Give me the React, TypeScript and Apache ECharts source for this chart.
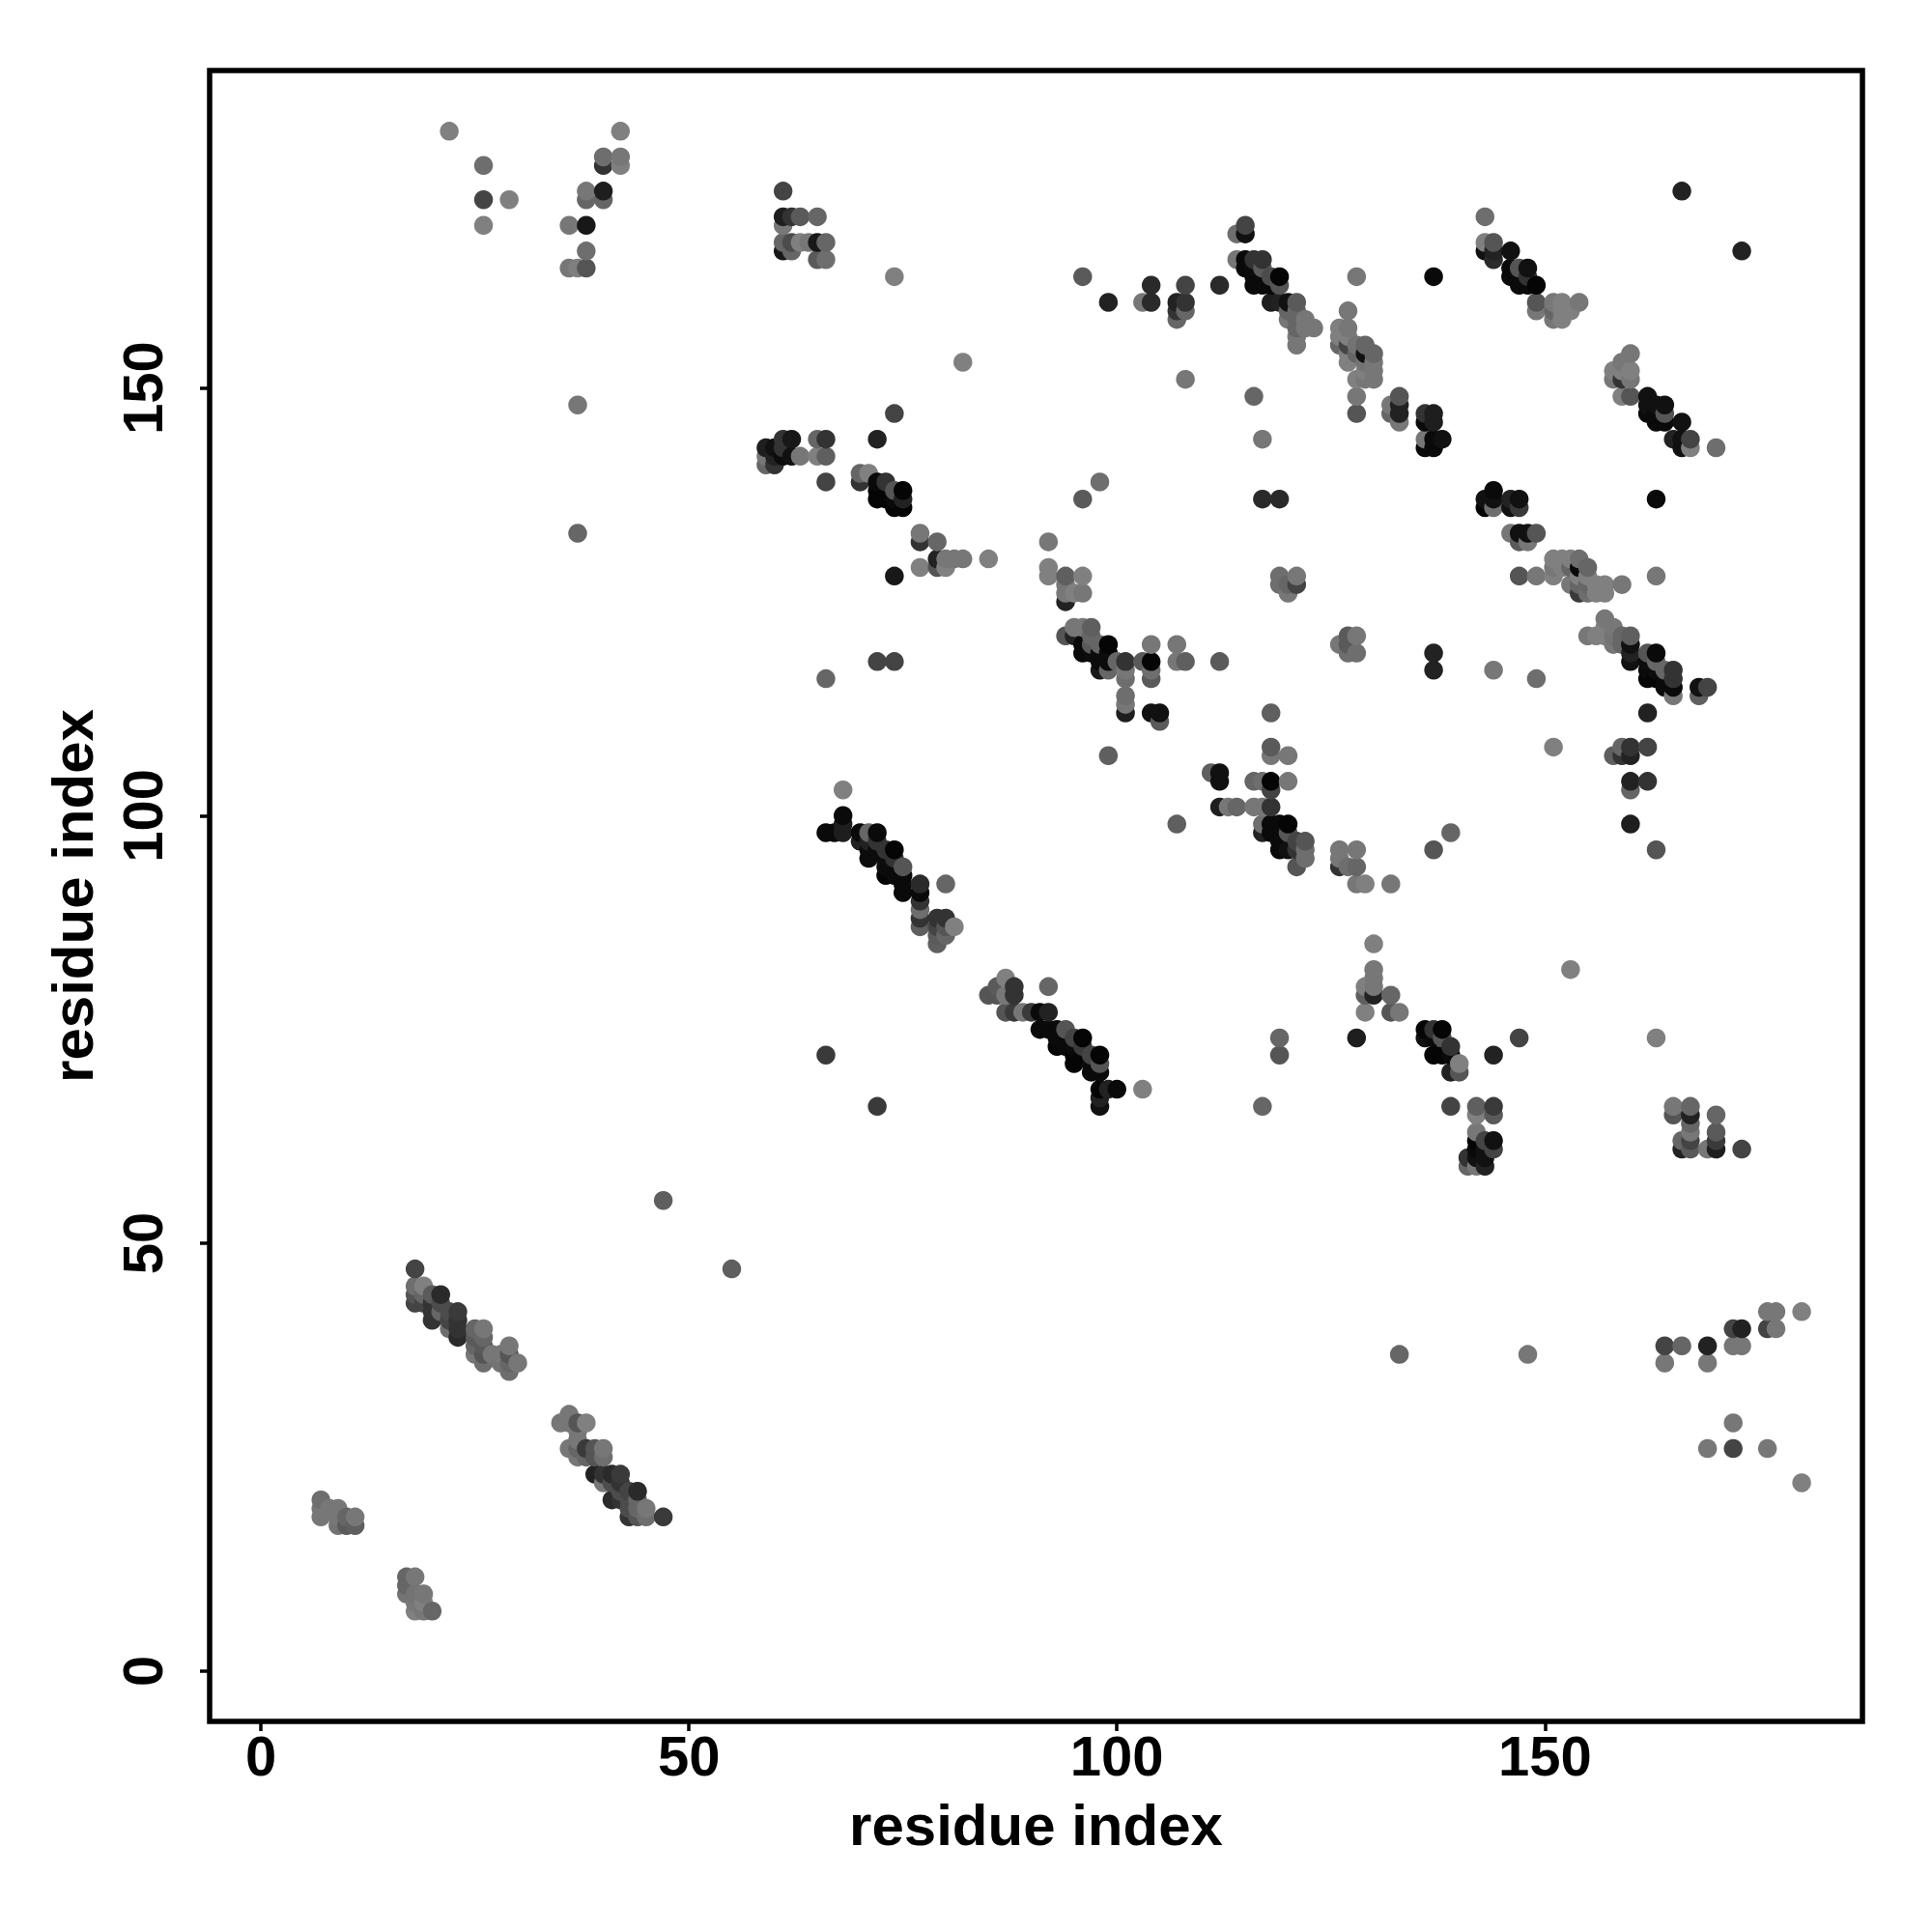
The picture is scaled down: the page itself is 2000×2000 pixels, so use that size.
import React, { useEffect, useRef } from "react";
import * as echarts from "echarts";

type Contact = [number, number, number];

const xTicks = [0, 50, 100, 150];
const yTicks = [0, 50, 100, 150];
const axisTitle = "residue index";

// each contact: [residue x, residue y, grey level of the dot]
const topLeft: Contact[] = [
  [22,180,128],[26,176,110],[26,172,68],[29,172,128],[26,169,128],[36,169,119],[38,169,24],[38,173,119],[38,172,102],
  [40,173,30],[40,172,102],[38,166,110],[36,164,119],[37,164,128],[38,164,85],[40,177,110],[40,176,51],[42,177,119],
  [42,176,128],[42,180,128],[37,148,119],[37,133,102],
];
const topBlock61: Contact[] = [
  [61,173,68],[61,170,30],[62,170,51],[63,170,90],[65,170,102],[61,169,119],[61,167,102],[62,167,76],[63,167,128],
  [64,167,119],[65,167,24],[66,167,102],[61,166,24],[62,166,102],[65,165,90],[66,165,110],[74,163,128],[82,153,128],
];
const strand144: Contact[] = [
  [74,147,68],[72,144,34],[59,143,30],[61,144,51],[62,144,24],[59,142,119],[59,141,102],[60,141,51],[60,143,17],[60,142,34],
  [61,143,51],[61,142,12],[62,142,17],[63,142,119],[65,144,102],[66,144,51],[65,142,128],[66,142,95],[66,139,68],
  [70,140,102],[71,140,128],[70,139,51],[72,139,10],[73,139,51],[72,138,5],[74,138,85],[75,138,5],[72,137,5],[73,137,5],
  [74,137,10],[75,137,34],[74,136,5],[75,136,5],[74,128,24],[77,133,119],[77,132,51],[79,132,102],[77,129,128],
  [79,130,34],[80,130,119],[81,130,119],[82,130,119],[79,129,85],[80,129,128],[85,130,128],
];
const midUpper: Contact[] = [
  [92,132,119],[92,129,128],[92,128,128],[94,128,95],[96,128,128],[94,127,119],[94,126,119],[94,125,34],[95,126,128],[96,126,119],
  [95,122,119],[96,122,119],[97,122,95],[94,121,85],[95,121,34],[97,121,102],[96,120,10],[96,119,10],[97,120,90],[98,120,102],
  [99,120,5],[97,119,12],[98,119,12],[99,119,12],[98,118,12],[99,118,12],[98,117,24],[99,117,102],[100,118,102],
  [101,118,51],[101,117,119],[101,116,110],[101,114,110],[101,113,119],[101,112,30],[103,118,90],[104,118,5],[104,120,119],
  [104,117,110],[104,116,90],[104,112,17],[105,112,17],[105,111,90],[107,120,119],[107,118,119],[108,118,95],[112,118,90],
  [99,107,95],[96,163,90],[98,139,110],[96,137,90],[66,116,102],[72,118,68],[74,118,68],
];
const row160: Contact[] = [
  [99,160,34],[104,162,42],[103,160,119],[104,160,42],[108,162,68],[107,160,34],[108,160,51],[107,159,51],[108,159,102],[107,158,102],
  [112,162,42],[108,151,119],[116,149,102],[117,144,119],[117,137,42],[119,137,42],
];
const strand165: Contact[] = [
  [114,168,110],[115,169,68],[115,168,17],[114,165,119],[115,165,10],[116,165,51],[117,165,51],[115,164,10],[116,164,12],[117,164,90],
  [116,163,10],[118,163,76],[119,163,5],[116,162,10],[117,162,10],[118,162,10],[119,162,85],[118,160,30],[119,160,34],[120,160,17],
  [121,160,90],[120,159,102],[121,159,102],[120,158,119],[121,158,102],[122,158,119],[123,157,119],[121,157,102],[122,157,119],
  [121,156,119],[121,155,119],[128,163,119],[137,163,10],[127,159,119],
];
const strand153: Contact[] = [
  [126,157,128],[127,157,119],[126,156,128],[127,156,128],[126,155,102],[127,155,68],[128,155,115],[129,155,102],[127,154,128],
  [128,154,102],[129,154,17],[130,154,102],[127,153,128],[129,153,115],[130,153,119],[129,152,128],[130,152,119],[128,151,128],
  [129,151,119],[130,151,119],[128,149,119],[128,147,85],[132,148,119],[132,147,102],[133,149,85],[133,148,34],[133,147,34],
  [133,146,119],[136,147,51],[137,147,30],[136,146,10],[137,146,30],[136,144,119],[137,144,10],[138,144,17],[136,143,10],[137,143,10],
];
const strand166: Contact[] = [
  [143,170,110],[143,167,128],[144,167,85],[143,166,17],[144,166,34],[144,165,42],[146,166,17],[146,164,10],[147,164,85],[148,164,17],
  [146,163,10],[148,163,51],[147,162,10],[148,162,10],[149,162,5],[149,160,85],[149,159,119],[151,160,119],[152,160,128],[154,160,119],
  [151,159,102],[152,159,128],[153,159,128],[151,158,119],[152,158,128],[166,173,34],[173,166,34],
];
const strand150: Contact[] = [
  [160,154,119],[159,153,119],[158,152,128],[159,152,128],[160,152,128],[158,151,119],[159,151,51],[160,151,119],[159,149,128],[160,149,85],
  [162,149,17],[162,148,17],[163,148,17],[164,148,17],[162,147,10],[163,147,10],[164,147,85],[163,146,10],[164,146,10],[166,146,17],
  [165,144,34],[166,144,17],[167,144,68],[166,143,17],[167,143,128],[170,143,110],
];
const strand137: Contact[] = [
  [144,138,10],[143,137,17],[144,137,17],[143,136,5],[144,136,110],[146,137,34],[147,137,17],[146,136,17],[147,136,58],
  [146,133,119],[147,133,17],[148,133,17],[149,133,85],[147,132,90],[148,132,119],[163,137,10],[163,128,119],[147,128,85],[149,128,119],
];
const strand129: Contact[] = [
  [151,128,128],[151,130,128],[152,130,128],[153,130,128],[154,130,110],[151,129,119],[152,129,128],[153,129,102],[154,129,10],[155,129,102],
  [154,128,128],[155,128,128],[153,127,119],[154,127,102],[155,127,102],[156,127,128],[157,127,128],[159,127,119],[155,126,110],[156,126,128],[157,126,128],
  [154,126,58],
];
const strand119: Contact[] = [
  [157,123,119],[158,122,119],[157,122,128],[155,121,119],[156,121,128],[157,121,128],[158,121,115],[159,121,102],[160,121,95],[158,120,119],
  [159,120,102],[160,120,17],[160,119,34],[160,118,17],[162,119,85],[163,119,10],[162,118,12],[163,118,102],[164,117,102],[165,117,51],
  [162,117,10],[163,117,12],[162,116,5],[163,116,5],[164,116,10],[165,116,51],[164,115,10],[165,115,10],[165,114,119],[168,115,17],
  [169,115,68],[168,114,95],[162,112,34],[137,119,34],[137,117,34],[144,117,119],[149,116,110],
];
const upper108: Contact[] = [
  [151,108,128],[159,108,102],[160,108,51],[162,108,68],[158,107,95],[159,107,51],[160,107,34],[160,104,34],[162,104,51],[160,103,102],
  [160,99,30],[163,96,85],[119,128,110],[121,128,119],[119,127,110],[120,127,102],[121,127,68],[120,126,119],[127,121,90],[128,121,119],
  [126,120,119],[127,120,90],[127,119,110],[128,119,110],
];
const midLower: Contact[] = [
  [107,99,95],[118,112,95],[118,108,90],[118,107,119],[120,107,119],[111,105,95],[112,105,17],[112,104,17],[116,104,102],[117,104,110],
  [118,104,5],[118,103,68],[120,104,119],[112,101,30],[113,101,119],[114,101,102],[116,101,119],[117,101,119],[118,101,51],[117,99,110],
  [118,99,10],[119,99,10],[120,99,5],[117,98,34],[118,98,10],[120,98,85],[119,97,10],[121,97,68],[122,97,85],[119,96,10],[120,96,17],
  [121,96,51],[122,96,110],[122,95,110],[121,94,85],[126,96,119],[128,96,119],[126,95,119],[126,94,51],[127,94,110],[128,94,102],
  [128,92,119],[129,92,128],[132,92,119],[137,96,85],[139,98,102],
];
const strand92: Contact[] = [
  [68,103,128],[68,100,10],[68,99,30],[66,98,10],[67,98,10],[68,98,30],[70,98,10],[71,98,102],[72,98,10],[70,97,34],[71,97,34],[72,97,51],
  [71,96,12],[72,96,12],[73,96,51],[74,96,5],[71,95,12],[73,95,12],[74,95,51],[73,94,12],[75,94,85],[73,93,5],[74,93,10],[75,93,10],
  [75,92,10],[75,91,10],[77,92,42],[77,91,10],[77,90,51],[77,89,110],[77,88,51],[77,87,95],[80,92,102],[79,88,51],[80,88,51],[79,87,68],
  [80,87,85],[81,87,128],[79,86,90],[80,86,102],[79,85,95],
];
const strand75: Contact[] = [
  [87,81,128],[86,80,90],[88,80,51],[85,79,85],[86,79,85],[87,79,119],[88,79,51],[87,77,85],[88,77,58],[89,77,119],[90,77,58],[91,77,10],[92,77,34],
  [92,80,102],[91,75,10],[92,75,10],[93,75,10],[94,75,85],[93,74,10],[95,74,68],[96,74,5],[93,73,5],[94,73,10],[95,73,10],[96,73,58],
  [95,72,5],[96,72,5],[97,72,68],[98,72,5],[95,71,5],[97,71,10],[98,71,85],[97,70,10],[98,70,10],[98,68,5],[99,68,34],[100,68,10],[98,67,34],
  [98,66,17],[103,68,128],[119,74,102],[119,72,85],[117,66,102],[66,72,58],[72,66,58],
];
const lowerMid: Contact[] = [
  [130,85,128],[130,82,119],[130,81,119],[130,80,119],[129,80,128],[129,79,95],[130,79,34],[132,79,102],[129,77,128],[132,77,85],[133,77,119],
  [128,74,30],[136,75,5],[137,75,51],[138,75,5],[136,74,17],[137,74,10],[138,74,85],[139,73,51],[137,72,5],[138,72,5],[139,72,10],[139,70,34],
  [140,71,128],[140,70,85],[147,74,68],[144,72,34],[153,82,128],[163,74,128],[139,66,68],[142,66,95],[144,66,58],[142,65,128],[144,65,90],
  [142,63,119],[142,62,5],[143,62,68],[144,62,17],[144,61,68],[142,61,10],[143,61,17],[141,60,51],[142,60,17],[143,60,17],[141,59,102],[142,59,119],[143,59,34],
];
const rightLow: Contact[] = [
  [165,66,119],[165,65,85],[167,66,102],[167,65,34],[167,64,102],[167,63,119],[170,65,102],[170,63,90],[170,62,58],[166,62,102],[167,62,68],
  [166,61,34],[167,61,90],[169,61,119],[170,61,30],[173,61,68],[164,38,68],[164,36,119],[166,38,102],[169,38,34],[169,36,119],[172,40,68],[173,40,34],
  [172,38,119],[173,38,119],[176,40,68],[176,42,119],[177,42,119],[177,40,119],[180,42,128],[172,29,119],[169,26,119],[172,26,68],[176,26,119],[180,22,128],
  [133,37,102],[148,37,119],[47,55,95],[55,47,95],
];
const strand44: Contact[] = [
  [18,47,68],[18,45,110],[19,45,128],[18,44,85],[18,43,68],[19,44,102],[19,43,68],[20,44,90],[21,44,42],[20,43,51],[21,43,76],[20,42,51],[20,41,51],
  [21,42,102],[22,42,76],[23,42,58],[22,41,68],[23,41,51],[22,40,110],[23,40,51],[23,39,42],[25,40,102],[26,40,119],[25,39,90],[26,39,102],[25,38,102],
  [26,38,90],[25,37,119],[26,37,85],[26,36,110],[27,37,119],[28,37,119],[29,38,119],[29,37,85],[28,36,115],[29,36,102],[30,36,119],[29,35,110],
];
const strand25: Contact[] = [
  [36,30,119],[35,29,119],[36,29,119],[37,29,85],[38,29,128],[37,28,119],[37,27,119],[36,26,119],[37,26,102],[38,26,58],[39,26,85],[40,26,119],[37,25,119],
  [38,25,102],[39,25,85],[40,25,110],[39,23,34],[40,23,51],[41,23,42],[42,23,58],[40,22,119],[41,22,76],[42,22,51],[41,20,42],[42,20,51],[42,21,76],
  [43,21,68],[44,21,42],[43,20,76],[44,20,102],[43,18,51],[44,18,85],[43,19,76],[45,19,119],[45,18,110],[44,19,102],[47,18,58],
];
const blockLow: Contact[] = [
  [7,20,110],[7,19,119],[7,18,119],[8,19,119],[9,19,119],[9,18,119],[9,17,115],[10,18,102],[10,17,90],[11,18,119],[11,17,95],
  [17,11,102],[18,11,119],[17,10,102],[17,9,115],[19,9,119],[18,9,115],[18,8,119],[19,8,128],[18,7,128],[19,7,119],[20,7,102],
];

const contacts: Contact[] = [
  ...topLeft, ...topBlock61, ...strand144, ...midUpper, ...row160, ...strand165, ...strand153, ...strand166, ...strand150,
  ...strand137, ...strand129, ...strand119, ...upper108, ...midLower, ...strand92, ...strand75, ...lowerMid, ...rightLow,
  ...strand44, ...strand25, ...blockLow,
].sort((a, b) => a[0] - b[0] || a[1] - b[1]);

const FONT = "Liberation Sans";

export default function App() {
  const ref = useRef<HTMLDivElement>(null);
  useEffect(() => {
    const chart = echarts.init(ref.current!, null, { renderer: "svg" });
    const axisBase = {
      type: "value" as const,
      name: axisTitle,
      nameLocation: "middle" as const,
      nameTextStyle: { fontFamily: FONT, fontWeight: "bold" as const, fontSize: 60, color: "#000" },
      splitLine: { show: false },
      axisLine: { show: false, onZero: false },
      axisTick: { show: true, length: 10, lineStyle: { color: "#000", width: 3.5 } },
    };
    chart.setOption({
      animation: false,
      backgroundColor: "#fff",
      grid: {
        show: true,
        left: 217,
        top: 73,
        width: 1711,
        height: 1709,
        borderColor: "#000",
        borderWidth: 5.5,
        backgroundColor: "transparent",
      },
      xAxis: {
        ...axisBase,
        min: -6,
        max: 187.1,
        nameGap: 77,
        axisTick: { ...axisBase.axisTick, customValues: xTicks },
        axisLabel: {
          customValues: xTicks,
          fontFamily: FONT,
          fontWeight: "bold",
          fontSize: 58,
          color: "#000",
          margin: 6,
        },
      },
      yAxis: {
        ...axisBase,
        min: -5.9,
        max: 187.1,
        nameGap: 112,
        axisTick: { ...axisBase.axisTick, customValues: yTicks },
        axisLabel: {
          customValues: yTicks,
          rotate: 90,
          fontFamily: FONT,
          fontWeight: "bold",
          fontSize: 58,
          color: "#000",
          margin: 41,
        },
      },
      series: [
        {
          type: "scatter",
          symbol: "circle",
          symbolSize: 19.5,
          clip: false,
          itemStyle: { opacity: 1 },
          data: contacts.map(([x, y, g]) => ({
            value: [x, y],
            itemStyle: { color: `rgb(${g},${g},${g})`, opacity: 1 },
          })),
        },
      ],
    });
    return () => chart.dispose();
  }, []);
  return <div ref={ref} style={{ position: "absolute", left: 0, top: 0, width: 2000, height: 2000 }} />;
}
